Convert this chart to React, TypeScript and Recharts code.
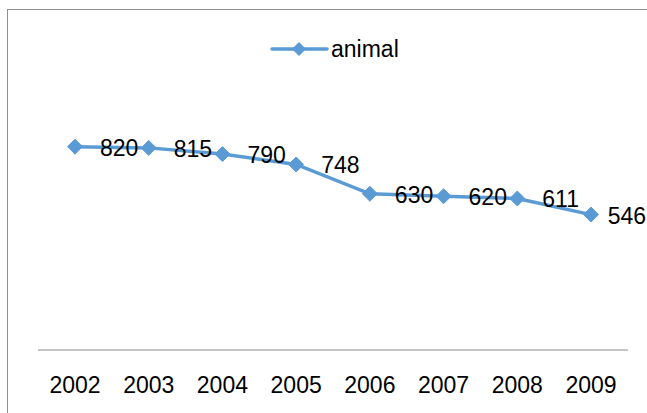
import React from "react";
import { LineChart, Line, XAxis, YAxis } from "recharts";

const years = ["2002", "2003", "2004", "2005", "2006", "2007", "2008", "2009"];
const animal = [820, 815, 790, 748, 630, 620, 611, 546];
const seriesName = "animal";

const data = years.map((y, i) => ({ year: y, animal: animal[i] }));

const W = 647;
const H = 413;
const COLOR = "#5B9BD5";
const FONT = "'Liberation Sans', Arial, sans-serif";
const FS = 23;

const Diamond = (props: any) => {
  const { cx, cy } = props;
  if (cx == null || cy == null) return null;
  const r = 7.5;
  return (
    <polygon
      points={`${cx},${cy - r} ${cx + r},${cy} ${cx},${cy + r} ${cx - r},${cy}`}
      fill={COLOR}
      stroke={COLOR}
      strokeWidth={1}
    />
  );
};

const renderLabel = (props: any) => {
  const { x, y, value } = props;
  const text = String(value);
  const w = text.length * 0.556 * FS;
  const lx = Math.min(x + 25, W - w - 1);
  return (
    <text
      x={lx}
      y={y + 1}
      fill="#000"
      fontFamily={FONT}
      fontSize={FS}
      textAnchor="start"
      dominantBaseline="central"
    >
      {text}
    </text>
  );
};

const LegendBox = () => (
  <svg width={140} height={30} style={{ position: "absolute", left: 270, top: 34 }}>
    <line x1={2} y1={15} x2={57} y2={15} stroke={COLOR} strokeWidth={3.5} strokeLinecap="round" />
    <polygon points="29,8 36,15 29,22 22,15" fill={COLOR} />
    <text x={61} y={15} fontFamily={FONT} fontSize={FS} fill="#000" dominantBaseline="central">
      {seriesName}
    </text>
  </svg>
);

export default function App() {
  return (
    <div style={{ position: "absolute", left: 0, top: 0, width: W, height: H, background: "#fff", overflow: "hidden" }}>
      <div
        style={{
          position: "absolute",
          left: 7,
          top: 9,
          width: W,
          height: H,
          borderTop: "1px solid #8f8f8f",
          borderLeft: "1px solid #8f8f8f",
        }}
      />
      <div style={{ position: "absolute", left: 0, top: 0 }}>
        <LineChart width={W} height={H} data={data} margin={{ top: 102, right: 19, left: 38, bottom: 33 }}>
          <XAxis
            dataKey="year"
            axisLine={{ stroke: "#8a8a8a", strokeWidth: 1 }}
            tickLine={false}
            tickMargin={21}
            tick={{ fill: "#000", fontFamily: FONT, fontSize: FS }}
            interval={0}
            padding={{ left: 37, right: 37 }}
          />
          <YAxis hide domain={[0, 1000]} />
          <Line
            type="linear"
            dataKey="animal"
            stroke={COLOR}
            strokeWidth={3.5}
            dot={<Diamond />}
            activeDot={false}
            label={renderLabel}
            isAnimationActive={false}
          />
        </LineChart>
      </div>
      <LegendBox />
    </div>
  );
}
